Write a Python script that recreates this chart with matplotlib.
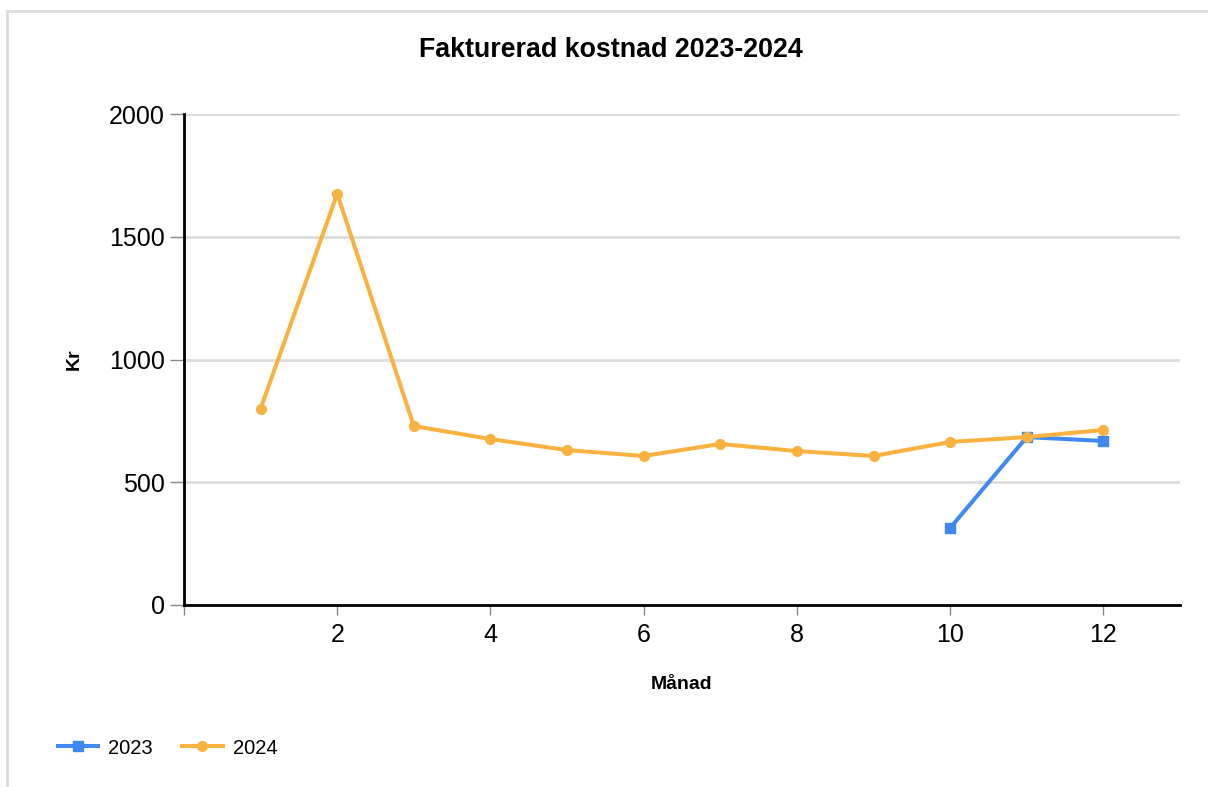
import matplotlib.pyplot as plt
from matplotlib.patches import Rectangle

plt.rcParams['font.family'] = ['Liberation Sans', 'DejaVu Sans']

# Data
manad_2023 = [10, 11, 12]
kostnad_2023 = [314, 684, 668]
manad_2024 = [1, 2, 3, 4, 5, 6, 7, 8, 9, 10, 11, 12]
kostnad_2024 = [800, 1675, 729, 676, 631, 607, 656, 627, 607, 664, 684, 713]
xticks = [0, 2, 4, 6, 8, 10, 12]
xticklabels = ['', '2', '4', '6', '8', '10', '12']
yticks = [0, 500, 1000, 1500, 2000]

blue = '#4189f2'
orange = '#f9b240'

fig = plt.figure(figsize=(12.08, 7.87), dpi=100)
# light frame around the chart
fig.patches.append(Rectangle((7 / 1208, -0.1), 1.2, 1 - 11 / 787 + 0.1, transform=fig.transFigure,
                             fill=False, edgecolor='#dcdcdc', linewidth=2))

ax = fig.add_axes([184 / 1208, 1 - 605 / 787, (1180 - 184) / 1208, (605 - 114) / 787])

ax.plot(manad_2023, kostnad_2023, color=blue, linewidth=2.9, marker='s', markersize=7,
        label='2023', zorder=3)
ax.plot(manad_2024, kostnad_2024, color=orange, linewidth=2.9, marker='o', markersize=7,
        label='2024', zorder=4)

ax.set_xlim(0, 13)
ax.set_ylim(0, 2000)
ax.set_xticks(xticks)
ax.set_xticklabels(xticklabels)
ax.set_yticks(yticks)
ax.tick_params(axis='both', labelsize=18, color='#888888', width=1)
ax.tick_params(axis='y', length=10, pad=4)
ax.tick_params(axis='x', length=7, pad=6)

ax.grid(axis='y', color='#dddddd', linewidth=2)
ax.set_axisbelow(True)
for s in ['top', 'right']:
    ax.spines[s].set_visible(False)
for s in ['left', 'bottom']:
    ax.spines[s].set_linewidth(2)
    ax.spines[s].set_color('black')

ax.set_ylabel('Kr', fontsize=14, fontweight='bold', labelpad=19)
ax.set_xlabel('Månad', fontsize=14, fontweight='bold', labelpad=21)
fig.text(611 / 1208, 1 - 50 / 787, 'Fakturerad kostnad 2023-2024', fontsize=19.3, fontweight='bold',
         ha='center', va='center')

fig.legend(loc='center left', bbox_to_anchor=(40 / 1208, 1 - 748 / 787), ncol=2, frameon=False,
           fontsize=14.5, handlelength=2, columnspacing=1.45, handletextpad=0.5)

fig.savefig('out.png', dpi=100)
